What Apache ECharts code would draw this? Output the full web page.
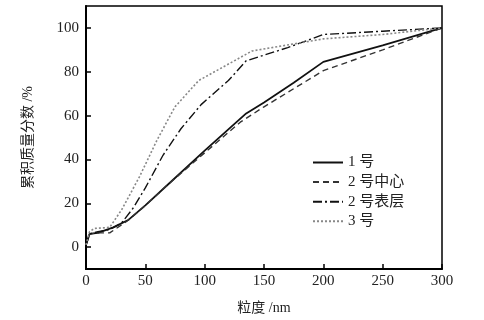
<!DOCTYPE html>
<html><head><meta charset="utf-8">
<script src="https://cdn.jsdelivr.net/npm/echarts@6/dist/echarts.min.js"></script>
<style>html,body{margin:0;padding:0;background:#fff}#c{width:484px;height:320px}</style>
</head><body><div id="c"></div>
<script>
const seriesNames = ['1 号', '2 号中心', '2 号表层', '3 号'];
const s1 = [[0,1],[3,6],[10,6.5],[23,9],[36,12.5],[50,19],[70,29],[100,44],[135,61],[150,66],[175,75],[200,84.5],[250,92],[300,100]];
const s2 = [[0,1],[3,6],[10,6.5],[20,6.5],[35,12],[50,19],[70,29],[100,43],[130,57],[150,64],[200,80.5],[250,90],[300,100]];
const s3 = [[0,1],[3,6],[10,7],[20,8],[30,11],[40,18],[50,27],[65,42],[80,54],[97,65],[120,76],[135,85],[170,91],[200,97],[250,98.5],[300,100]];
const s4 = [[0,1],[3,7],[7,8.5],[20,9],[30,17],[45,32],[60,49],[75,64],[95,76],[140,89.5],[200,95],[250,97],[300,100]];
const yTicks = [0,20,40,60,80,100];

const font = "'Liberation Serif', 'Noto Sans CJK SC', serif";
const styles = [
  {color:'#111', type:'solid', width:1.8},
  {color:'#333', type:[6,4], width:1.4},
  {color:'#111', type:[9,3,2,3], width:1.4},
  {color:'#888', type:[2,2], width:1.6}
];
const allData = [s1,s2,s3,s4];
const chart = echarts.init(document.getElementById('c'), null, {renderer:'canvas'});
chart.setOption({
  animation:false,
  backgroundColor:'#fff',
  grid:{left:86,right:42,top:6,bottom:48,show:true,borderColor:'#000',borderWidth:1.5},
  legend:{
    orient:'vertical', left:307, top:150, itemWidth:30, itemHeight:15, itemGap:4.6,
    itemStyle:{opacity:0},
    textStyle:{fontFamily:font,fontSize:15,lineHeight:15,color:'#222'},
    data:seriesNames
  },
  xAxis:{
    type:'value', min:0, max:300, interval:50,
    name:'粒度 /nm', nameLocation:'middle', nameGap:32,
    nameTextStyle:{fontFamily:font,fontSize:14,color:'#222'},
    axisLine:{onZero:false,lineStyle:{color:'#000',width:2}},
    axisTick:{inside:true,length:5,lineStyle:{color:'#000',width:1.5}},
    axisLabel:{fontFamily:font,fontSize:15,color:'#222',margin:5},
    splitLine:{show:false}
  },
  yAxis:{
    type:'value', min:-10, max:110,
    name:'累积质量分数 /%', nameLocation:'middle', nameGap:51, nameRotate:90,
    nameTextStyle:{fontFamily:font,fontSize:14,color:'#222'},
    axisLine:{onZero:false,lineStyle:{color:'#000',width:2}},
    axisTick:{inside:true,length:5,customValues:yTicks,lineStyle:{color:'#000',width:1.5}},
    axisLabel:{fontFamily:font,fontSize:15,color:'#222',margin:7,customValues:yTicks},
    splitLine:{show:false}
  },
  series: allData.map((d,i)=>({
    name:seriesNames[i], type:'line', data:d, symbol:'none', smooth:false,
    lineStyle:styles[i], itemStyle:{color:styles[i].color}
  }))
});
</script></body></html>
